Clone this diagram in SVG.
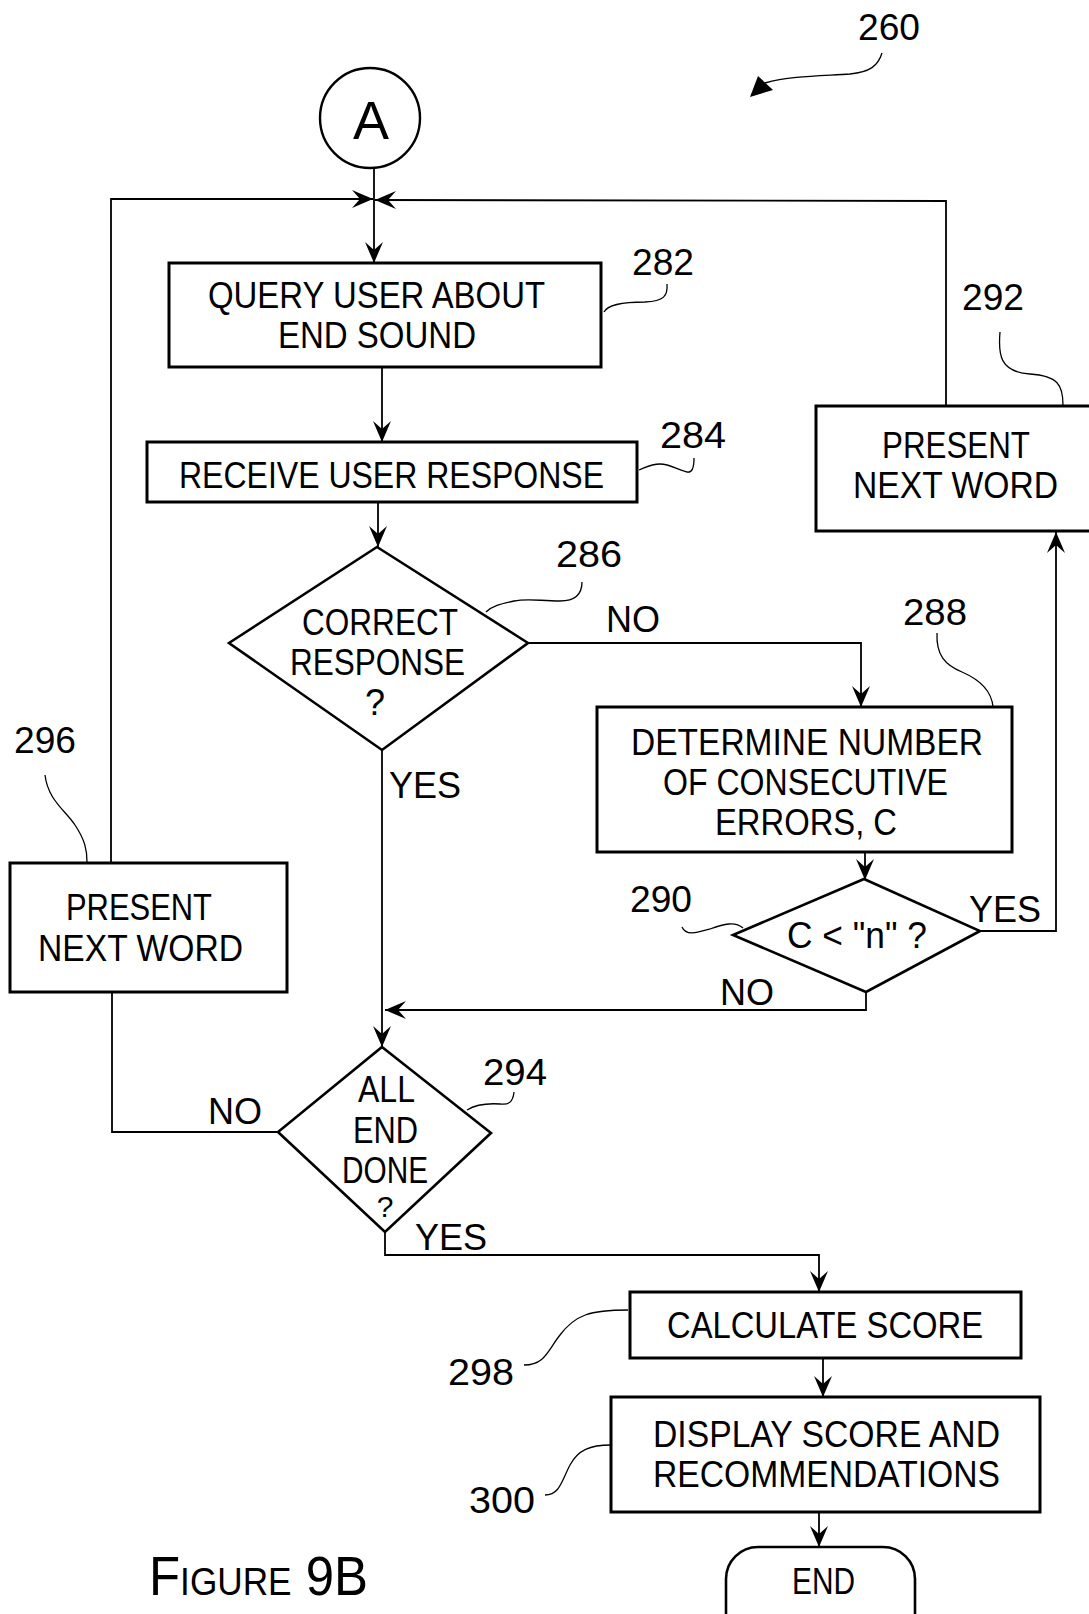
<svg xmlns="http://www.w3.org/2000/svg" width="1089" height="1614" viewBox="0 0 1089 1614">
<style>
.box{fill:none;stroke:#000;stroke-width:3}
.dia{fill:none;stroke:#000;stroke-width:2.6;stroke-linejoin:miter}
.ln{fill:none;stroke:#000;stroke-width:1.8}
.ldr{fill:none;stroke:#000;stroke-width:1.3}
text{font-family:"Liberation Sans","DejaVu Sans",Arial,sans-serif;font-size:36px;fill:#000;text-anchor:middle}
.lbl{text-anchor:start}
</style>
<defs>
<marker id="ah" markerUnits="userSpaceOnUse" markerWidth="26" markerHeight="22" viewBox="-23 -11 25 22" refX="0" refY="0" orient="auto">
<path d="M0,0 L-21,-9 L-13,0 L-21,9 Z" fill="#000"/>
</marker>
</defs>
<rect width="1089" height="1614" fill="#fff"/>

<g id="connectors">
<line class="ln" x1="374" y1="168" x2="374" y2="263" marker-end="url(#ah)"/>
<polyline class="ln" points="111,863 111,199 373,199" marker-end="url(#ah)"/>
<polyline class="ln" points="946,405 946,201 375,200" marker-end="url(#ah)"/>
<line class="ln" x1="382" y1="367" x2="382" y2="442" marker-end="url(#ah)"/>
<line class="ln" x1="378" y1="502" x2="378" y2="547" marker-end="url(#ah)"/>
<polyline class="ln" points="528,643 861,643 861,707" marker-end="url(#ah)"/>
<line class="ln" x1="865" y1="852" x2="865" y2="880" marker-end="url(#ah)"/>
<polyline class="ln" points="980,931 1056,931 1056,532" marker-end="url(#ah)"/>
<polyline class="ln" points="866,992 866,1010 385,1010" marker-end="url(#ah)"/>
<line class="ln" x1="382" y1="750" x2="382" y2="1047" marker-end="url(#ah)"/>
<polyline class="ln" points="278,1132 112,1132 112,992"/>
<polyline class="ln" points="385,1232 385,1255 819,1255 819,1292" marker-end="url(#ah)"/>
<line class="ln" x1="823" y1="1358" x2="823" y2="1397" marker-end="url(#ah)"/>
<line class="ln" x1="819" y1="1512" x2="819" y2="1547" marker-end="url(#ah)"/>
<text x="633" y="632">NO</text>
<text x="425" y="798">YES</text>
<text x="1005" y="922">YES</text>
<text x="747" y="1005">NO</text>
<text x="235" y="1124">NO</text>
<text x="451" y="1250">YES</text>
</g>

<g id="ref260">
<text x="889" y="40" textLength="62" lengthAdjust="spacingAndGlyphs">260</text>
<path class="ldr" d="M882,53 C878,66 870,72 850,74 C820,76 790,76 765,83"/>
<polygon points="750,97 758,76 773,90" fill="#000"/>
</g>

<g id="nodeA">
<circle cx="370" cy="118" r="50" fill="none" stroke="#000" stroke-width="2.4"/>
<text x="371" y="139" style="font-size:54px">A</text>
</g>

<g id="n282">
<rect class="box" x="169" y="263" width="432" height="104"/>
<text x="376.5" y="308" textLength="337" lengthAdjust="spacingAndGlyphs">QUERY USER ABOUT</text>
<text x="377" y="348" textLength="198" lengthAdjust="spacingAndGlyphs">END SOUND</text>
<text x="663" y="275" textLength="62" lengthAdjust="spacingAndGlyphs">282</text>
<path class="ldr" d="M667,284 C668,296 664,301 645,302 C625,302 608,304 604,312"/>
</g>

<g id="n284">
<rect class="box" x="147" y="442" width="490" height="60"/>
<text x="391.5" y="488" textLength="425" lengthAdjust="spacingAndGlyphs">RECEIVE USER RESPONSE</text>
<text x="693" y="448" textLength="66" lengthAdjust="spacingAndGlyphs">284</text>
<path class="ldr" d="M694,458 C694,468 692,473 687,472 C678,470 670,464 660,464 C650,464 645,468 639,470"/>
</g>

<g id="n286">
<polygon class="dia" points="377,547 528,643 382,750 229,643"/>
<text x="380" y="635" textLength="156" lengthAdjust="spacingAndGlyphs">CORRECT</text>
<text x="377.5" y="675" textLength="175" lengthAdjust="spacingAndGlyphs">RESPONSE</text>
<text x="375" y="715">?</text>
<text x="589" y="567" textLength="66" lengthAdjust="spacingAndGlyphs">286</text>
<path class="ldr" d="M582,582 C582,595 575,601 560,601 C540,601 528,598 514,601 C500,604 492,606 486,612"/>
</g>

<g id="n288">
<rect class="box" x="597" y="707" width="415" height="145"/>
<text x="807" y="755" textLength="352" lengthAdjust="spacingAndGlyphs">DETERMINE NUMBER</text>
<text x="805.5" y="795" textLength="285" lengthAdjust="spacingAndGlyphs">OF CONSECUTIVE</text>
<text x="806" y="835" textLength="182" lengthAdjust="spacingAndGlyphs">ERRORS, C</text>
<text x="935" y="625" textLength="64" lengthAdjust="spacingAndGlyphs">288</text>
<path class="ldr" d="M937,633 C936,655 945,665 962,672 C985,682 992,695 993,707"/>
</g>

<g id="n290">
<polygon class="dia" points="864,879 980,931 866,992 733,935"/>
<text x="857" y="948" textLength="140" lengthAdjust="spacingAndGlyphs">C &lt; "n" ?</text>
<text x="661" y="912" textLength="62" lengthAdjust="spacingAndGlyphs">290</text>
<path class="ldr" d="M682,927 C686,936 696,933 710,929 C724,924 735,921 743,928"/>
</g>

<g id="n292">
<rect class="box" x="816" y="406" width="290" height="125"/>
<text x="956" y="458" textLength="148" lengthAdjust="spacingAndGlyphs">PRESENT</text>
<text x="955.5" y="498" textLength="205" lengthAdjust="spacingAndGlyphs">NEXT WORD</text>
<text x="993" y="310" textLength="62" lengthAdjust="spacingAndGlyphs">292</text>
<path class="ldr" d="M1000,332 C998,355 1000,372 1030,374 C1058,376 1063,385 1063,405"/>
</g>

<g id="n294">
<polygon class="dia" points="382,1047 491,1133 385,1232 278,1132"/>
<text x="386.5" y="1102" textLength="57" lengthAdjust="spacingAndGlyphs">ALL</text>
<text x="385.5" y="1143" textLength="65" lengthAdjust="spacingAndGlyphs">END</text>
<text x="385" y="1183" textLength="86" lengthAdjust="spacingAndGlyphs">DONE</text>
<text x="385" y="1217" style="font-size:30px">?</text>
<text x="515" y="1085" textLength="64" lengthAdjust="spacingAndGlyphs">294</text>
<path class="ldr" d="M514,1092 C513,1102 509,1105 500,1104 C485,1103 475,1105 467,1110"/>
</g>

<g id="n296">
<rect class="box" x="10" y="863" width="277" height="129"/>
<text x="139" y="920" textLength="146" lengthAdjust="spacingAndGlyphs">PRESENT</text>
<text x="140.5" y="961" textLength="205" lengthAdjust="spacingAndGlyphs">NEXT WORD</text>
<text x="45" y="753" textLength="62" lengthAdjust="spacingAndGlyphs">296</text>
<path class="ldr" d="M45,775 C48,800 65,810 75,825 C85,840 87,850 87,862"/>
</g>

<g id="n298">
<rect class="box" x="630" y="1292" width="391" height="66"/>
<text x="825" y="1338" textLength="316" lengthAdjust="spacingAndGlyphs">CALCULATE SCORE</text>
<text x="481" y="1385" textLength="66" lengthAdjust="spacingAndGlyphs">298</text>
<path class="ldr" d="M524,1365 C545,1365 548,1350 560,1335 C575,1315 590,1310 628,1310"/>
</g>

<g id="n300">
<rect class="box" x="611" y="1397" width="429" height="115"/>
<text x="826.5" y="1447" textLength="347" lengthAdjust="spacingAndGlyphs">DISPLAY SCORE AND</text>
<text x="826.5" y="1487" textLength="347" lengthAdjust="spacingAndGlyphs">RECOMMENDATIONS</text>
<text x="502" y="1513" textLength="66" lengthAdjust="spacingAndGlyphs">300</text>
<path class="ldr" d="M545,1495 C560,1495 562,1480 570,1465 C578,1450 590,1445 611,1445"/>
</g>

<g id="nEND">
<rect x="726" y="1547" width="189" height="110" rx="32" ry="32" fill="none" stroke="#000" stroke-width="2.6"/>
<text x="823.5" y="1594" textLength="63" lengthAdjust="spacingAndGlyphs">END</text>
</g>

<g id="caption">
<text x="149" y="1595" class="lbl" style="font-size:55px" textLength="219" lengthAdjust="spacingAndGlyphs">F<tspan style="font-size:38px">IGURE</tspan> 9B</text>
</g>
</svg>
